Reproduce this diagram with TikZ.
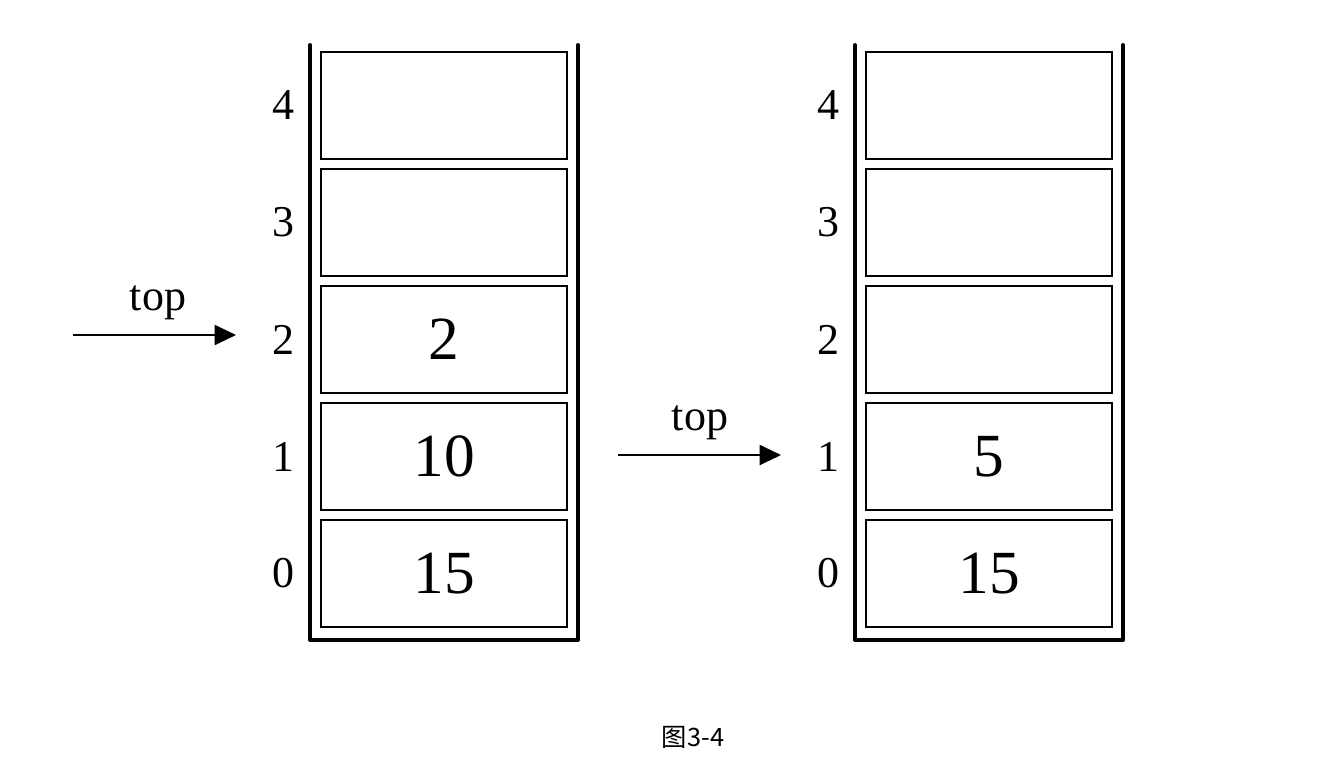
\documentclass[tikz,border=0pt]{standalone}
\usepackage{fontspec}
\setmainfont{Liberation Serif}
\newfontfamily\cjk{Noto Sans CJK SC}
\usetikzlibrary{arrows.meta,positioning}
\tikzset{
  cell/.style={draw, line width=1.5pt, minimum width=184.5pt, minimum height=80.25pt, inner sep=0pt, outer sep=0pt, font=\fontsize{46}{46}\selectfont},
  idx/.style={inner sep=0pt, font=\fontsize{33}{33}\selectfont},
  wall/.style={line width=3pt, line join=round, line cap=round},
  arrow/.style={-{Triangle[length=16pt,width=15pt]}, line width=1.5pt},
  toplbl/.style={inner sep=0pt, font=\fontsize{33}{33}\selectfont},
}
\begin{document}
\begin{tikzpicture}[x=0.75pt, y=-0.75pt]
  \useasboundingbox (0,0) rectangle (1331,771);

  % LEFT STACK
  \node[cell] (l0) at (444,573.5) {15};
  \node[cell, above=7.5pt of l0] (l1) {10};
  \node[cell, above=7.5pt of l1] (l2) {2};
  \node[cell, above=7.5pt of l2] (l3) {};
  \node[cell, above=7.5pt of l3] (l4) {};
  \draw[wall] (310,45) -- (310,640) -- (578,640) -- (578,45);

  \node[idx, left=20pt of l0] (li0) {0};
  \node[idx, left=20pt of l1] (li1) {1};
  \node[idx, left=20pt of l2] (li2) {2};
  \node[idx, left=20pt of l3] (li3) {3};
  \node[idx, left=20pt of l4] (li4) {4};

  % LEFT TOP POINTER
  \coordinate (lstart) at (73,335);
  \coordinate (lend) at (236,335);
  \draw[arrow] (lstart) -- (lend);
  \node[toplbl] (ltop) at (158,303) {top};

  % RIGHT STACK
  \node[cell] (r0) at (989,573.5) {15};
  \node[cell, above=7.5pt of r0] (r1) {5};
  \node[cell, above=7.5pt of r1] (r2) {};
  \node[cell, above=7.5pt of r2] (r3) {};
  \node[cell, above=7.5pt of r3] (r4) {};
  \draw[wall] (855,45) -- (855,640) -- (1123,640) -- (1123,45);

  \node[idx, left=20pt of r0] (ri0) {0};
  \node[idx, left=20pt of r1] (ri1) {1};
  \node[idx, left=20pt of r2] (ri2) {2};
  \node[idx, left=20pt of r3] (ri3) {3};
  \node[idx, left=20pt of r4] (ri4) {4};

  % RIGHT TOP POINTER
  \coordinate (rstart) at (618,455);
  \coordinate (rend) at (781,455);
  \draw[arrow] (rstart) -- (rend);
  \node[toplbl] (rtop) at (700,423) {top};

  % CAPTION
  \node[font=\cjk\fontsize{19}{19}\selectfont, inner sep=0pt] (cap) at (693,737) {图3-4};
\end{tikzpicture}
\end{document}
